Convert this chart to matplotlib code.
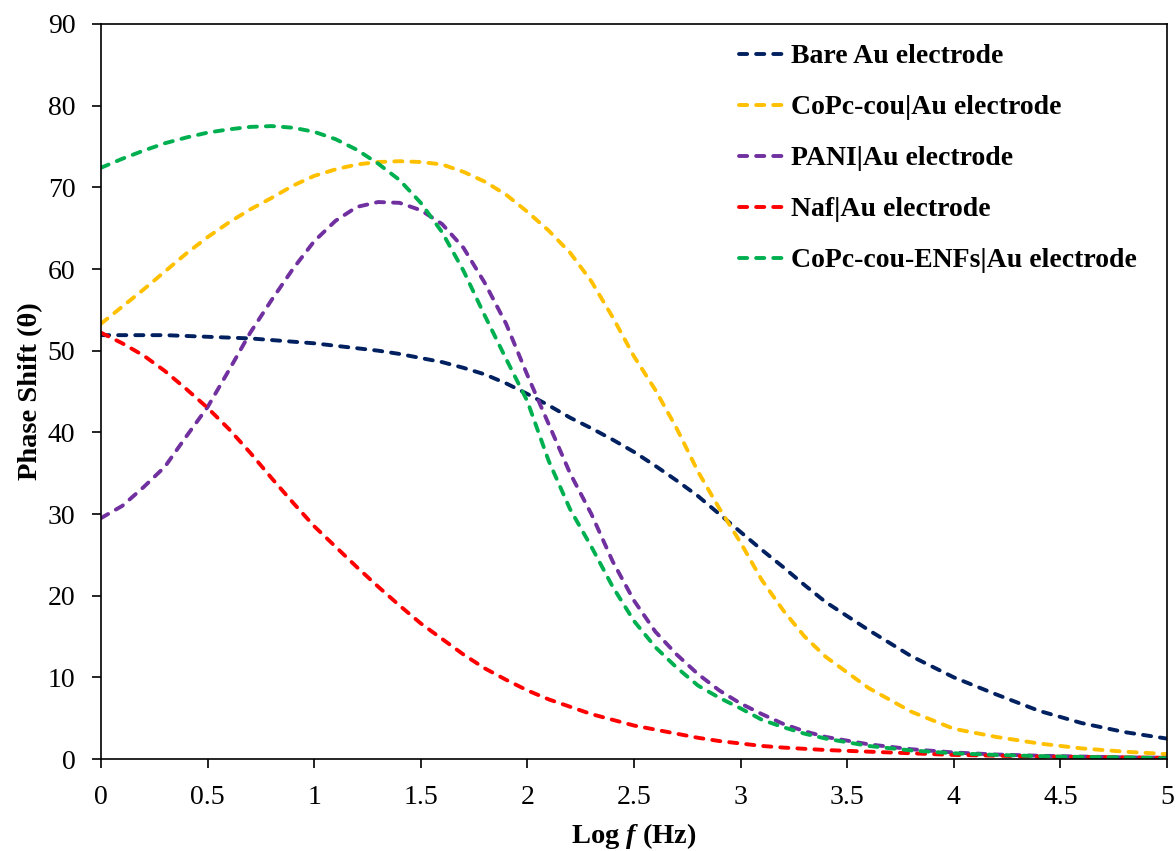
import numpy as np
import matplotlib
matplotlib.use("Agg")
import matplotlib.pyplot as plt
from matplotlib.ticker import FuncFormatter

plt.rcParams['font.family'] = ['Liberation Serif', 'DejaVu Serif']
plt.rcParams['mathtext.fontset'] = 'custom'
plt.rcParams['mathtext.it'] = 'Liberation Serif:italic:bold'

# log f (Hz) sample points
log_f = [0.0, 0.1, 0.2, 0.3, 0.4, 0.5, 0.6, 0.7, 0.8, 0.9,
         1.0, 1.1, 1.2, 1.3, 1.4, 1.5, 1.6, 1.7, 1.8, 1.9,
         2.0, 2.1, 2.2, 2.3, 2.4, 2.5, 2.6, 2.7, 2.8, 2.9,
         3.0, 3.1, 3.2, 3.3, 3.4, 3.6, 3.8, 4.0, 4.2, 4.4, 4.6, 4.8, 5.0]

# phase shift (degrees)
bare_au = [51.9, 51.9, 51.9, 51.9, 51.8, 51.7, 51.6, 51.5, 51.3, 51.1,
           50.9, 50.6, 50.3, 50.0, 49.6, 49.1, 48.6, 47.9, 47.1, 46.0,
           44.7, 43.3, 41.8, 40.5, 39.1, 37.6, 35.9, 34.1, 32.2, 30.0,
           27.8, 25.6, 23.5, 21.3, 19.2, 15.8, 12.6, 10.0, 7.9, 5.9, 4.4, 3.3, 2.5]
copc_cou = [53.3, 55.4, 57.5, 59.7, 61.9, 63.9, 65.7, 67.3, 68.7, 70.2,
            71.4, 72.2, 72.8, 73.1, 73.2, 73.1, 72.8, 71.9, 70.7, 69.1,
            67.0, 64.7, 62.0, 58.5, 54.1, 49.3, 45.2, 40.5, 35.2, 30.7,
            26.5, 21.9, 18.2, 15.0, 12.5, 8.7, 5.8, 3.7, 2.7, 1.9, 1.3, 0.9, 0.6]
pani = [29.5, 31.0, 33.3, 35.8, 39.5, 43.1, 47.6, 52.2, 56.2, 60.0,
        63.4, 65.9, 67.6, 68.2, 68.1, 67.2, 65.5, 62.6, 58.3, 53.3,
        47.0, 41.0, 35.0, 30.0, 24.2, 19.4, 15.6, 12.8, 10.4, 8.4,
        6.8, 5.5, 4.3, 3.4, 2.7, 1.8, 1.2, 0.8, 0.55, 0.4, 0.3, 0.2, 0.15]
naf = [52.2, 50.9, 49.4, 47.5, 45.3, 43.0, 40.4, 37.5, 34.4, 31.4,
       28.5, 26.0, 23.5, 21.1, 18.8, 16.6, 14.7, 12.8, 11.1, 9.7,
       8.4, 7.3, 6.4, 5.5, 4.8, 4.1, 3.6, 3.1, 2.6, 2.2,
       1.9, 1.6, 1.4, 1.25, 1.1, 0.9, 0.7, 0.5, 0.4, 0.3, 0.25, 0.2, 0.15]
copc_enfs = [72.4, 73.5, 74.5, 75.4, 76.1, 76.7, 77.1, 77.4, 77.5, 77.3,
             76.8, 75.9, 74.6, 72.9, 70.9, 68.1, 64.5, 59.8, 54.3, 49.0,
             43.8, 36.5, 30.6, 26.0, 21.1, 16.9, 13.7, 11.2, 9.0, 7.5,
             6.2, 4.8, 3.9, 3.1, 2.5, 1.6, 1.05, 0.7, 0.5, 0.35, 0.25, 0.2, 0.1]

labels = ["Bare Au electrode", "CoPc-cou|Au electrode", "PANI|Au electrode",
          "Naf|Au electrode", "CoPc-cou-ENFs|Au electrode"]
colors = ["#002060", "#FFC000", "#7030A0", "#FF0000", "#00B050"]
series = [bare_au, copc_cou, pani, naf, copc_enfs]

fig = plt.figure(figsize=(11.76, 8.51), dpi=100)
ax = fig.add_axes([0.0859, 0.1081, 0.9064, 0.8637])

for y, c, lab in zip(series, colors, labels):
    ax.plot(log_f, y, color=c, lw=2.8, ls=(0, (2.1, 2.3)), label=lab,
            dash_capstyle='round', solid_joinstyle='round')

ax.set_xlim(0, 5)
ax.set_ylim(0, 90)
ax.set_xticks(np.arange(0, 5.01, 0.5))
ax.set_yticks(np.arange(0, 91, 10))
ax.xaxis.set_major_formatter(FuncFormatter(lambda v, p: f"{v:g}"))
ax.tick_params(direction='out', length=6.5, width=1.2, labelsize=20, pad=12,
               top=False, right=False)
for s in ax.spines.values():
    s.set_linewidth(1.2)

ax.set_xlabel(r"Log $\mathit{f}$ (Hz)", fontsize=20.5, fontweight='bold', labelpad=8)
ax.set_ylabel("Phase Shift (θ)", fontsize=20.5, fontweight='bold', labelpad=3)

leg = ax.legend(loc='upper right', frameon=False, prop={'weight': 'bold', 'size': 20},
                handlelength=1.55, handletextpad=0.32, labelspacing=0.92,
                borderaxespad=0.0, bbox_to_anchor=(0.982, 0.988))

fig.savefig("out.png", dpi=100)
